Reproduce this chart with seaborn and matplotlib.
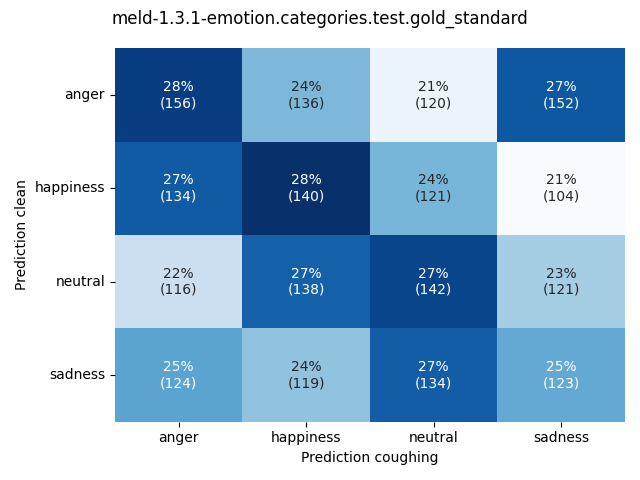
import numpy as np
import pandas as pd
import matplotlib
matplotlib.use("Agg")
import matplotlib.pyplot as plt
import seaborn as sns

labels = ["anger", "happiness", "neutral", "sadness"]
counts = np.array([
    [156, 136, 120, 152],
    [134, 140, 121, 104],
    [116, 138, 142, 121],
    [124, 119, 134, 123],
])

pct = counts / counts.sum(axis=1, keepdims=True)
annot = np.array([[f"{p*100:.0f}%\n({c})" for p, c in zip(prow, crow)]
                  for prow, crow in zip(pct, counts)])

df = pd.DataFrame(pct, index=labels, columns=labels)

fig, ax = plt.subplots(figsize=(6.4, 4.8), dpi=100)
sns.heatmap(df, annot=annot, fmt="", cmap="Blues", cbar=False, ax=ax)
ax.set_xlabel("Prediction coughing")
ax.set_ylabel("Prediction clean")
ax.tick_params(axis="y", rotation=0)
fig.suptitle("meld-1.3.1-emotion.categories.test.gold_standard")
plt.tight_layout()
plt.savefig("out.png", dpi=100)
